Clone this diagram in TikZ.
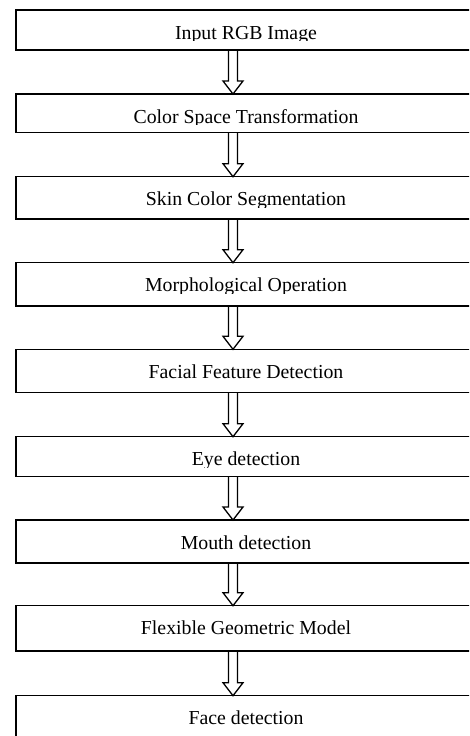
\documentclass[tikz,border=0pt]{standalone}
\usepackage{fontspec}
\setmainfont{Liberation Serif}
\usetikzlibrary{calc}
\tikzset{
  stagetext/.style={font=\fontsize{19.8}{20}\selectfont, anchor=base, inner sep=0pt},
  stage/.style args={#1/#2}{draw, line width=1.4pt, anchor=north west,
    minimum width=460pt, minimum height=#2, inner sep=0pt, outer sep=0pt,
    path picture={
      \clip ([yshift=-30.5pt]path picture bounding box.north west) rectangle (path picture bounding box.north east);
      \node[stagetext] at ([yshift=-29pt]path picture bounding box.north) {#1};
    }},
  hollow/.style={draw, line width=1.3pt, line join=miter}
}
\newcommand\flowarrow[2]{%
  \draw[hollow] ($(#1.south west)+(212.5pt,0)$) -- ($(#2.north west)+(212.5pt,13pt)$)
    -- ($(#2.north west)+(207pt,13pt)$) -- ($(#2.north west)+(217pt,0)$)
    -- ($(#2.north west)+(227pt,13pt)$) -- ($(#2.north west)+(221.5pt,13pt)$)
    -- ($(#1.south west)+(221.5pt,0)$);}
\begin{document}
\begin{tikzpicture}[x=1pt,y=1pt]
  \fill[white] (0,0) rectangle (469,-736);
  \clip (0,0) rectangle (469,-736);
  \node[stage={Input RGB Image/40pt}] (b1) at (16,-10) {};
  \node[stage={Color Space Transformation/38.7pt}] (b2) at (16,-94) {};
  \node[stage={Skin Color Segmentation/42.3pt}] (b3) at (16,-176.7) {};
  \node[stage={Morphological Operation/43.3pt}] (b4) at (16,-262.7) {};
  \node[stage={Facial Feature Detection/43.4pt}] (b5) at (16,-349.3) {};
  \node[stage={Eye detection/40pt}] (b6) at (16,-436.7) {};
  \node[stage={Mouth detection/43pt}] (b7) at (16,-520) {};
  \node[stage={Flexible Geometric Model/45.3pt}] (b8) at (16,-605.7) {};
  \node[stage={Face detection/60pt}] (b9) at (16,-695.7) {};
  \flowarrow{b1}{b2}
  \flowarrow{b2}{b3}
  \flowarrow{b3}{b4}
  \flowarrow{b4}{b5}
  \flowarrow{b5}{b6}
  \flowarrow{b6}{b7}
  \flowarrow{b7}{b8}
  \flowarrow{b8}{b9}
\end{tikzpicture}
\end{document}
